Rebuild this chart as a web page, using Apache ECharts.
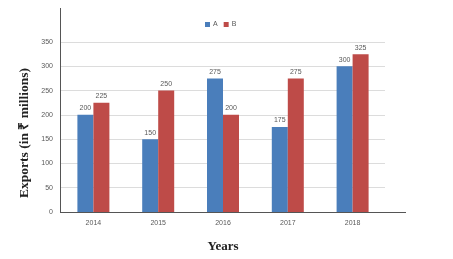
<!DOCTYPE html>
<html><head><meta charset="utf-8">
<script src="https://cdn.jsdelivr.net/npm/echarts@6/dist/echarts.min.js"></script>
<style>html,body{margin:0;padding:0;background:#fff}#c{width:453px;height:259px}</style>
</head><body><div id="c"></div>
<script>
const years = ['2014','2015','2016','2017','2018'];
const seriesA = [200,150,275,175,300];
const seriesB = [225,250,200,275,325];
const yTicks = [0,50,100,150,200,250,300,350];
const yTitle = 'Exports (in \u20b9 millions)';

const chart = echarts.init(document.getElementById('c'), null, {renderer:'canvas'});
const lbl = {show:true, position:'top', fontSize:7, color:'#595959', distance:3, fontFamily:'Liberation Sans'};
chart.setOption({
  animation:false,
  backgroundColor:'#fff',
  legend:{top:16, left:200, itemWidth:5, itemHeight:5, itemGap:6,
    textStyle:{fontSize:7, color:'#595959', fontFamily:'Liberation Sans', padding:[0,0,0,-2]},
    data:['A','B'], icon:'rect'},
  grid:{left:61, right:68, top:42, bottom:47},
  xAxis:{type:'category', data:years,
    axisLine:{show:false}, axisTick:{show:false},
    axisLabel:{fontSize:7, color:'#595959', margin:8, fontFamily:'Liberation Sans'},
    name:'Years', nameLocation:'middle', nameGap:28,
    nameTextStyle:{fontFamily:'Liberation Serif', fontWeight:'bold', fontSize:13, color:'#222'}},
  yAxis:{type:'value', min:0, max:350, interval:50,
    axisLine:{show:false}, axisTick:{show:false},
    axisLabel:{fontSize:7, color:'#595959', margin:8, fontFamily:'Liberation Sans'},
    splitLine:{lineStyle:{color:'#dcdcdc', width:1}}},
  series:[
    {name:'A', type:'bar', data:seriesA, barWidth:16, barGap:'0%', itemStyle:{color:'#4a7ebb'}, label:lbl},
    {name:'B', type:'bar', data:seriesB, barWidth:16, barGap:'0%', itemStyle:{color:'#be4b48'}, label:lbl}
  ],
  graphic:[
    {type:'line', z:100, shape:{x1:60.5, y1:8, x2:60.5, y2:212}, style:{stroke:'#555', lineWidth:1}},
    {type:'line', z:100, shape:{x1:60, y1:212.5, x2:406, y2:212.5}, style:{stroke:'#555', lineWidth:1}},
    {type:'text', x:25, y:133, rotation:Math.PI/2,
      style:{text:yTitle, font:'bold 13.5px "Liberation Serif"', fill:'#222', align:'center', verticalAlign:'middle'}}
  ]
});
</script></body></html>
